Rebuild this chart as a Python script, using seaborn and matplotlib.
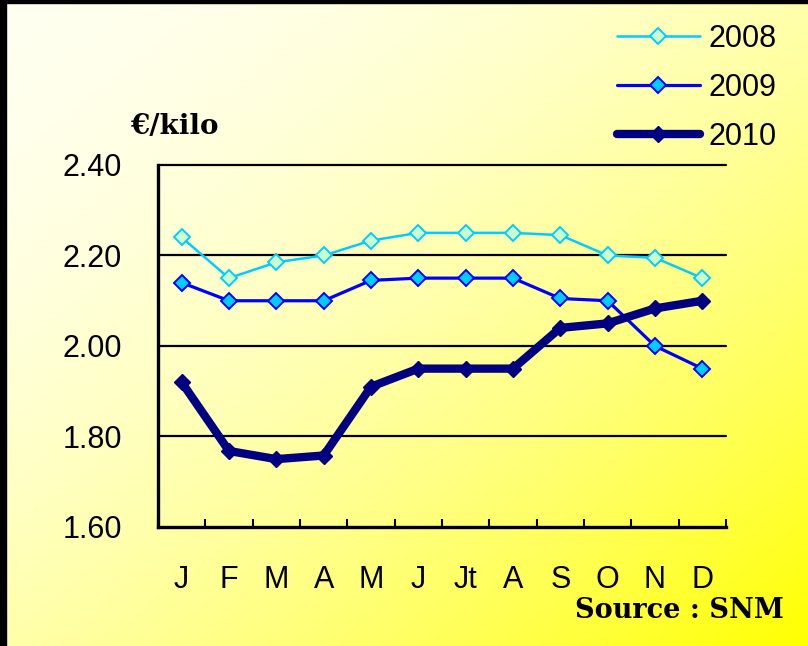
import numpy as np
import pandas as pd
import matplotlib
matplotlib.use("Agg")
import matplotlib.pyplot as plt
import seaborn as sns
from matplotlib.patches import Rectangle

months = ["J", "F", "M", "A", "M", "J", "Jt", "A", "S", "O", "N", "D"]
v2008 = [2.24, 2.15, 2.185, 2.20, 2.233, 2.25, 2.25, 2.25, 2.245, 2.20, 2.195, 2.15]
v2009 = [2.14, 2.10, 2.10, 2.10, 2.145, 2.15, 2.15, 2.15, 2.105, 2.10, 2.00, 1.95]
v2010 = [1.92, 1.768, 1.75, 1.758, 1.91, 1.95, 1.95, 1.95, 2.04, 2.05, 2.083, 2.10]
series_names = ["2008", "2009", "2010"]
yticks = [1.60, 1.80, 2.00, 2.20, 2.40]

sns.set_theme(style="white")
plt.rcParams["font.family"] = ["Liberation Sans", "DejaVu Sans"]
plt.rcParams["text.color"] = "black"

W, H = 808, 646
fig = plt.figure(figsize=(W / 100, H / 100), dpi=100)
fig.patch.set_facecolor("white")

# background gradient (light cream top-left -> yellow bottom-right)
xx, yy = np.meshgrid(np.linspace(0, 1, W), np.linspace(0, 1, H))
t = np.clip((xx + yy) / 2, 0, 1)
blue = 240 * (1 - t ** 1.8)
img = np.zeros((H, W, 3))
img[..., 0] = 1.0
img[..., 1] = 1.0
img[..., 2] = blue / 255
fig.figimage(img, xo=0, yo=0, origin="upper", zorder=-10)

ax = fig.add_axes([158 / W, 1 - 527 / H, (726 - 158) / W, (527 - 165) / H])
ax.set_facecolor("none")

x = np.arange(len(months))
df = pd.DataFrame({"x": x, "2008": v2008, "2009": v2009, "2010": v2010})

styles = {
    "2008": dict(color="#00CCFF", lw=1.8, mfc="#CCFFCC", mec="#00CCFF", ms=8.5, mew=1.4),
    "2009": dict(color="#0000FF", lw=2.3, mfc="#00CCFF", mec="#0000FF", ms=8.5, mew=1.4),
    "2010": dict(color="#000080", lw=6, mfc="#000080", mec="#000080", ms=8, mew=1),
}
for name in series_names:
    s = styles[name]
    sns.lineplot(data=df, x="x", y=name, ax=ax, color=s["color"], linewidth=s["lw"],
                 marker="D", markersize=s["ms"], markerfacecolor=s["mfc"],
                 markeredgecolor=s["mec"], markeredgewidth=s["mew"], label=name,
                 zorder=3, legend=False)

ax.set_xlim(-0.5, len(months) - 0.5)
ax.set_ylim(1.60, 2.40)
ax.set_yticks(yticks)
ax.set_yticklabels([f"{v:.2f}" for v in yticks])
ax.set_xticks(x)
ax.set_xticklabels(months)
ax.set_xticks(np.arange(-0.5, len(months), 1.0), minor=True)
ax.tick_params(axis="x", which="major", length=0, pad=27, labelsize=22, colors="black")
ax.tick_params(axis="x", which="minor", direction="in", length=6, width=1.5, color="black", bottom=True)
ax.tick_params(axis="y", length=0, pad=26, labelsize=22, colors="black")
ax.set_xlabel("")
ax.set_ylabel("")

for yv in yticks[1:]:
    ax.axhline(yv, color="black", lw=1.6, zorder=1, clip_on=False)

for sp in ["top", "right"]:
    ax.spines[sp].set_visible(False)
for sp in ["left", "bottom"]:
    ax.spines[sp].set_color("black")
    ax.spines[sp].set_linewidth(2.4)

handles, labels = ax.get_legend_handles_labels()
leg = fig.legend(handles, labels, loc="upper left", bbox_to_anchor=(617 / W, 1 - 24 / H),
                 frameon=False, fontsize=22, handlelength=2.7, handletextpad=0.3,
                 labelspacing=0.62, borderpad=0, borderaxespad=0)
for txt in leg.get_texts():
    txt.set_color("black")

fig.text(130 / W, 1 - 127 / H, "€/kilo", family="DejaVu Serif", fontweight="bold",
         fontsize=20, va="center", ha="left", color="black")
fig.text(784 / W, 1 - 611 / H, "Source : SNM", family="DejaVu Serif", fontweight="bold",
         fontsize=19.5, va="center", ha="right", color="black")

# border on left and top
fig.add_artist(Rectangle((0, 0), 6 / W, 1, transform=fig.transFigure, color="black", zorder=20))
fig.add_artist(Rectangle((0, 1 - 3 / H), 1, 3 / H, transform=fig.transFigure, color="black", zorder=20))

fig.savefig("out.png", dpi=100)
